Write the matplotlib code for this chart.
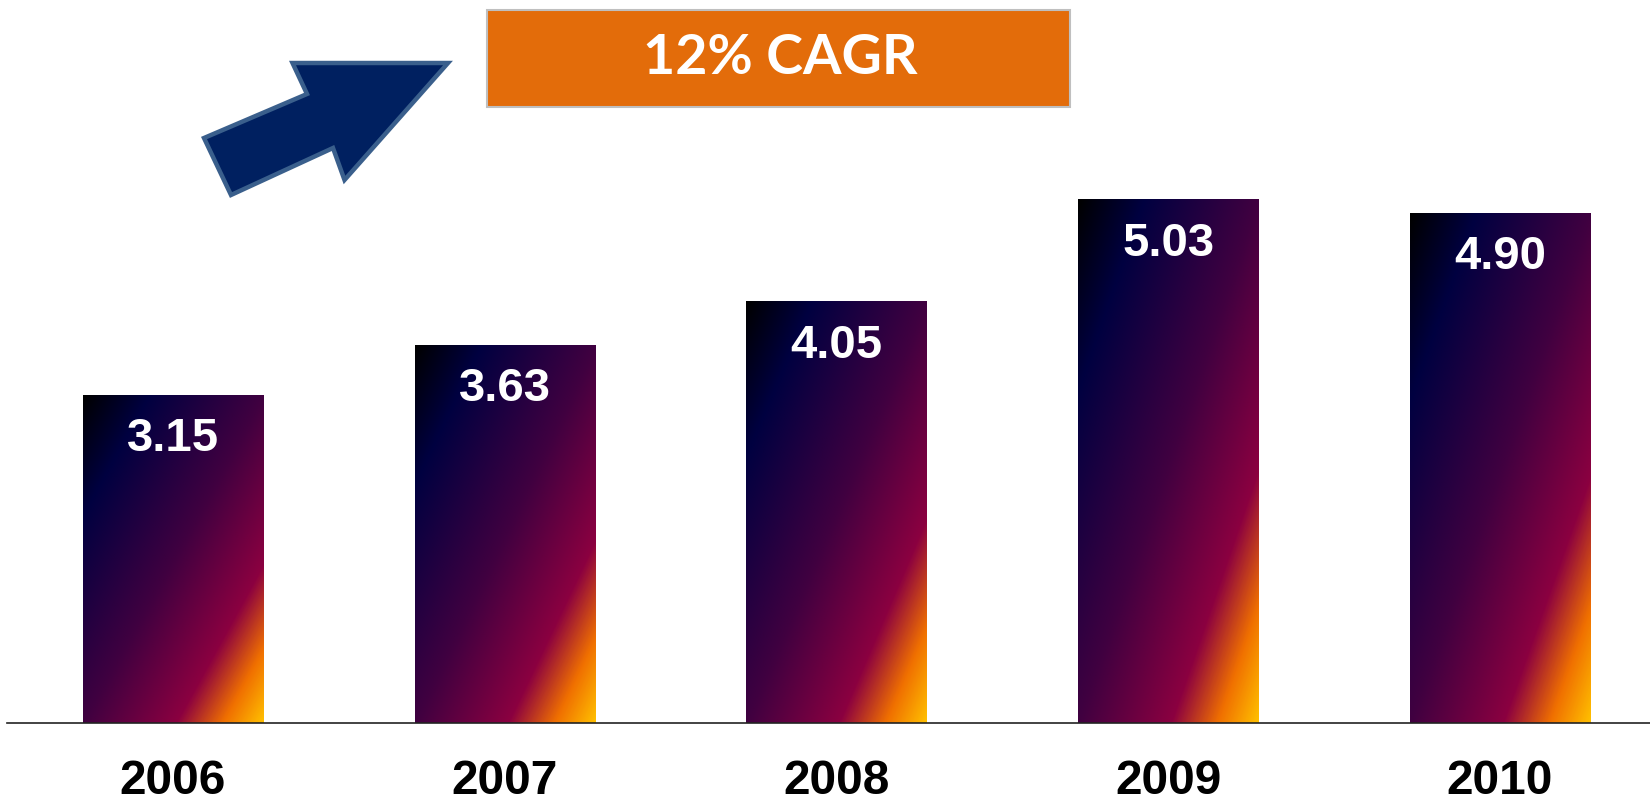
import numpy as np
import matplotlib
matplotlib.use("Agg")
import matplotlib.pyplot as plt
from matplotlib.colors import LinearSegmentedColormap
from matplotlib.patches import Polygon, Rectangle

# data
years = ["2006", "2007", "2008", "2009", "2010"]
values = [3.15, 3.63, 4.05, 5.03, 4.90]
cagr_text = "12% CAGR"

W, H = 1650, 800
fig = plt.figure(figsize=(W / 100, H / 100), dpi=100)

# main axes: baseline at y=723px, starts at x=7px
ax = fig.add_axes([7 / W, 77 / H, 1 - 7 / W, 1 - 77 / H])

# "late sunset" style gradient
sunset = LinearSegmentedColormap.from_list("sunset", [
    (0.00, "#000000"),
    (0.18, "#000040"),
    (0.50, "#400040"),
    (0.76, "#8B0040"),
    (0.89, "#F07000"),
    (1.00, "#FFBF00"),
])

x = np.arange(len(years))
bars = ax.bar(x, values, width=0.543, color="none", edgecolor="none")

# diagonal gradient inside each bar (top-left dark -> bottom-right gold)
n = 300
u = np.linspace(0, 1, n)[None, :]
v = np.linspace(0, 1, n)[:, None]
grad = (u + v) / 2
for b in bars:
    x0, w, h = b.get_x(), b.get_width(), b.get_height()
    ax.imshow(grad, cmap=sunset, vmin=0, vmax=1, extent=(x0, x0 + w, 0, h),
              origin="upper", aspect="auto", interpolation="bilinear", zorder=2)

for xi, val in zip(x, values):
    ax.annotate(f"{val:.2f}", (xi, val), xytext=(0, -44), textcoords="offset pixels",
                ha="center", va="center", color="white", fontsize=34,
                fontweight="bold", family="Liberation Sans", zorder=3)

ax.set_xlim(-0.5, 4.452)
ax.set_ylim(0, 6.95)
ax.set_xticks(x)
ax.set_xticklabels(years, fontsize=34.5, fontweight="bold", family="Liberation Sans")
ax.tick_params(axis="x", length=0, pad=26)
ax.set_yticks([])
for s in ["top", "right", "left"]:
    ax.spines[s].set_visible(False)
ax.spines["bottom"].set_color("#222222")
ax.spines["bottom"].set_linewidth(1.2)
ax.patch.set_alpha(0)

# overlay in pixel coordinates for the arrow and CAGR box
ov = fig.add_axes([0, 0, 1, 1], zorder=5)
ov.set_xlim(0, W)
ov.set_ylim(H, 0)
ov.axis("off")
ov.patch.set_alpha(0)

arrow_pts = [(231, 195), (204, 138), (307, 94), (292.5, 63), (448, 63),
             (344.5, 180), (333, 148)]
ov.add_patch(Polygon(arrow_pts, closed=True, facecolor="#002060",
                     edgecolor="#3A5F8C", linewidth=3.2, joinstyle="miter"))

ov.add_patch(Rectangle((487, 10), 583, 97, facecolor="#E36C0A",
                       edgecolor="#BFBFBF", linewidth=1.5))
ov.text(780, 58, cagr_text, ha="center", va="center", color="white",
        fontsize=40, fontweight="bold", family="Lato")

fig.savefig("out.png", dpi=100)
